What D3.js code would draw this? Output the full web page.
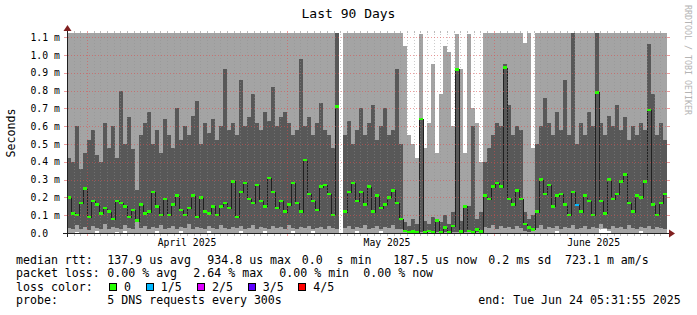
<!DOCTYPE html>
<html><head><meta charset="utf-8">
<script src="https://cdn.jsdelivr.net/npm/d3@7"></script>
<style>
html,body{margin:0;padding:0;background:#fff;}
svg{display:block;}
text{font-family:"DejaVu Sans Mono",monospace;white-space:pre;}
</style>
</head><body>
<svg id="c" width="697" height="315"></svg>
<script>
// ---- data (values in milliseconds) ----
const startDate = new Date(2025, 2, 29, 0, 0, 0);
const endDate   = new Date(2025, 5, 27, 0, 0, 0);
const yMax = 1.124;
const yTicks = [0, 0.1, 0.2, 0.3, 0.4, 0.5, 0.6, 0.7, 0.8, 0.9, 1.0, 1.1];
const lossColors = ["#26ff00", "#00b8ff", "#dd00ff", "#5e00ff", "#ff0000"];
const lossLabels = ["0", "1/5", "2/5", "3/5", "4/5"];

// lowest ping (bottom of light smoke)
const p1 = [
0.002,0.002,0.003,0.002,0.002,0.002,0.002,0.012,0.002,0.002,
0.002,0.002,0.003,0.002,0.010,0.002,0.002,0.002,0.002,0.002,
0.002,0.002,0.012,0.002,0.002,0.002,0.002,0.002,0.010,0.002,
0.002,0.002,0.002,0.002,0.002,0.012,0.002,0.002,0.002,0.002,
0.002,0.002,0.002,0.010,0.002,0.002,0.002,0.002,0.002,0.012,
0.002,0.002,0.002,0.002,0.002,0.002,0.010,0.002,0.002,0.002,
0.002,0.012,0.002,0.002,0.002,0.002,0.002,0.002,null,0.002,
0.002,0.002,0.010,0.002,0.002,0.002,0.002,0.002,0.012,0.002,
0.002,0.002,0.002,0.002,0.001,0.001,0.001,0.001,0.001,0.001,
0.001,0.001,0.001,0.001,0.001,0.001,0.001,0.001,0.001,0.001,
0.001,0.001,0.001,0.001,0.002,0.002,0.002,0.002,0.002,0.002,
0.002,0.002,0.002,0.002,0.002,0.002,0.002,0.002,0.002,0.002,
0.002,0.002,0.012,0.002,0.002,0.002,0.002,0.002,0.002,0.002,
0.002,0.002,0.002,0.020,0.025,0.010,0.002,0.002,0.002,0.002,
0.002,0.002,0.002,0.012,0.002,0.002,0.002,0.002,0.002,0.002];
// 2nd ping (bottom of dark smoke)
const p2 = [
0.030,0.020,0.045,0.025,0.035,0.015,0.040,0.030,0.020,0.050,
0.025,0.035,0.030,0.020,0.045,0.030,0.025,0.075,0.030,0.040,
0.020,0.035,0.030,0.045,0.025,0.030,0.040,0.020,0.035,0.030,
0.050,0.025,0.035,0.030,0.020,0.040,0.030,0.025,0.045,0.030,
0.020,0.035,0.030,0.040,0.025,0.030,0.045,0.020,0.035,0.030,
0.025,0.040,0.030,0.035,0.020,0.045,0.030,0.025,0.035,0.030,
0.040,0.020,0.030,0.035,0.025,0.040,0.030,0.020,null,0.030,
0.040,0.025,0.035,0.030,0.045,0.020,0.030,0.040,0.025,0.035,
0.030,0.045,0.025,0.020,0.005,0.004,0.006,0.004,0.005,0.004,
0.006,0.004,0.005,0.004,0.006,0.004,0.005,0.006,0.004,0.005,
0.006,0.004,0.005,0.004,0.035,0.030,0.045,0.025,0.040,0.030,
0.035,0.025,0.040,0.030,0.010,0.008,0.010,0.030,0.045,0.025,
0.035,0.030,0.040,0.020,0.035,0.030,0.045,0.025,0.030,0.040,
0.020,0.035,0.030,0.050,0.030,0.025,0.040,0.030,0.035,0.020,
0.045,0.030,0.025,0.035,0.030,0.040,0.020,0.035,0.030,0.025];
// median rtt
const med = [
0.20,0.11,0.10,0.17,0.25,0.09,0.18,0.16,0.11,0.14,
0.12,0.08,0.18,0.17,0.15,0.09,0.13,0.07,0.16,0.11,
0.12,0.23,0.15,0.10,0.19,0.10,0.16,0.21,0.13,0.10,
0.14,0.21,0.09,0.20,0.12,0.11,0.15,0.10,0.15,0.17,
0.14,0.29,0.09,0.23,0.28,0.19,0.17,0.27,0.18,0.15,
0.31,0.23,0.14,0.18,0.12,0.16,0.28,0.17,0.12,0.41,
0.22,0.18,0.13,0.26,0.27,0.22,0.10,0.71,null,0.12,
0.23,0.28,0.18,0.23,0.16,0.26,0.12,0.21,0.14,0.16,
0.20,0.24,0.17,0.08,0.010,0.006,0.008,0.005,0.64,0.006,
0.010,0.007,0.07,0.006,0.03,0.005,0.04,0.92,0.008,0.15,
0.010,0.006,0.020,0.008,0.21,0.19,0.26,0.28,0.26,0.93,
0.19,0.16,0.24,0.19,0.05,0.03,0.02,0.12,0.30,0.22,
0.27,0.15,0.21,0.22,0.16,0.10,0.23,0.157,0.12,0.21,
0.18,0.10,0.79,0.18,0.11,0.30,0.19,0.22,0.29,0.33,
0.17,0.12,0.21,0.20,0.29,0.69,0.16,0.10,0.17,0.22];
// 4th ping (top of dark smoke)
const p4 = [
0.42,0.40,0.60,0.36,0.45,0.52,0.58,0.44,0.40,0.62,
0.48,0.60,0.42,0.80,0.50,0.65,0.47,0.24,0.55,0.62,
0.68,0.50,0.58,0.45,0.64,0.55,0.48,0.70,0.52,0.60,
0.55,0.66,0.74,0.50,0.62,0.56,0.64,0.52,0.60,0.92,
0.58,0.62,0.55,0.86,0.60,0.65,0.78,0.62,0.58,0.68,
0.63,0.82,0.60,0.65,0.68,0.62,0.55,0.58,0.98,0.60,
0.65,0.55,0.62,0.73,0.58,0.55,0.48,2.00,null,0.55,
0.63,0.50,0.58,0.70,0.55,0.62,0.72,0.52,0.60,0.70,
0.55,0.58,0.92,0.50,0.06,0.04,0.08,0.05,0.64,0.07,
0.05,0.09,0.08,0.06,0.10,0.05,0.12,0.93,0.07,0.16,
0.15,0.60,0.08,0.12,0.40,0.48,0.55,0.62,0.60,0.95,
0.72,0.55,0.60,0.58,0.12,0.08,0.10,0.50,0.60,0.76,
0.62,0.55,0.68,0.58,0.86,0.55,1.20,0.50,0.62,0.55,
0.68,0.60,1.20,0.62,0.55,0.66,0.60,0.72,0.58,0.65,
0.52,0.60,0.55,0.62,0.58,1.06,0.78,0.55,0.62,0.52];
// highest ping (top of light smoke)
const p5 = [
2,2,2,2,2,2,2,2,2,2,
2,2,2,2,2,2,2,2,2,2,
2,2,2,2,2,2,2,2,2,2,
2,2,2,2,2,2,2,2,2,2,
2,2,2,2,2,2,2,2,2,2,
2,2,2,2,2,2,2,2,2,2,
2,2,2,2,2,2,2,2,null,2,
2,2,2,2,2,2,2,2,2,2,
2,2,2,2,1.05,0.55,0.50,0.42,1.12,0.48,
0.62,0.95,0.45,0.78,1.05,1.02,0.60,1.12,0.92,0.45,
1.12,0.70,0.62,0.40,2,2,2,2,2,2,
2,2,2,2,1.07,1.13,0.48,2,2,2,
2,2,2,2,2,2,2,2,2,2,
2,2,2,2,2,2,2,2,2,2,
2,2,2,2,2,2,2,2,2,2];
// lost packets out of 5
const loss = [
0,0,0,0,0,0,0,0,0,0, 0,0,0,0,0,0,0,0,0,0,
0,0,0,0,0,0,0,0,0,0, 0,0,0,0,0,0,0,0,0,0,
0,0,0,0,0,0,0,0,0,0, 0,0,0,0,0,0,0,0,0,0,
0,0,0,0,0,0,0,0,null,0, 0,0,0,0,0,0,0,0,0,0,
0,0,0,0,0,0,0,0,0,0, 0,0,0,0,0,0,0,0,0,0,
0,0,0,0,0,0,0,0,0,0, 0,0,0,0,0,0,0,0,0,0,
0,0,0,0,0,0,0,1,0,0, 0,0,0,0,0,0,0,0,0,0,
0,0,0,0,0,0,0,0,0,0];

const legendRtt  = ["median rtt:", "137.9 us avg", "934.8 us max", "0.0  s min", "187.5 us now", "0.2 ms sd", "723.1 m am/s"];
const legendLoss = ["packet loss:", "0.00 % avg", "2.64 % max", "0.00 % min", "0.00 % now"];
const probeText = ["probe:", "5 DNS requests every 300s", "end: Tue Jun 24 05:31:55 2025"];

// ---- drawing ----
const svg = d3.select("#c");
const X0 = 67, X1 = 667, Y0 = 233, Y1 = 33;
const x = d3.scaleTime().domain([startDate, endDate]).range([X0, X1]);
const y = d3.scaleLinear().domain([0, yMax]).range([Y0, Y1]);
const n = med.length;
const stepMs = (endDate - startDate) / n;
const colT = i => new Date(+startDate + i * stepMs);
const clip = v => Math.min(v, yMax);
const cols = d3.range(n).map(i => ({
  x0: x(colT(i)), x1: x(colT(i + 1)),
  p1: p1[i], p2: p2[i], med: med[i], p4: p4[i], p5: p5[i], loss: loss[i]
}));
const valid = cols.filter(d => d.med != null);

const g = svg.append("g").attr("shape-rendering", "crispEdges");
g.selectAll("rect.l").data(valid).join("rect").attr("class", "l")
  .attr("x", d => d.x0).attr("width", d => d.x1 - d.x0)
  .attr("y", d => y(clip(d.p5))).attr("height", d => y(clip(d.p1)) - y(clip(d.p5)))
  .attr("fill", "#a4a4a4");
g.selectAll("rect.d").data(valid).join("rect").attr("class", "d")
  .attr("x", d => d.x0).attr("width", d => d.x1 - d.x0)
  .attr("y", d => y(clip(d.p4))).attr("height", d => y(clip(d.p2)) - y(clip(d.p4)))
  .attr("fill", "#585858");

// median step line
const pts = [];
cols.forEach(d => { pts.push({ x: d.x0, v: d.med }); pts.push({ x: d.x1, v: d.med }); });
g.append("path")
  .attr("d", d3.line().defined(d => d.v != null).x(d => d.x).y(d => Math.round(y(clip(d.v))) + 0.5)(pts))
  .attr("fill", "none").attr("stroke", "#202020").attr("stroke-width", 1);
// loss-coloured median band
g.selectAll("rect.m").data(valid).join("rect").attr("class", "m")
  .attr("x", d => d.x0).attr("width", d => d.x1 - d.x0)
  .attr("y", d => y(clip(d.med)) - 1.25).attr("height", 2.5)
  .attr("fill", d => lossColors[d.loss]);

// grid
const grid = svg.append("g").attr("shape-rendering", "crispEdges");
const months = d3.timeMonth.range(startDate, endDate);
const monthSet = new Set(months.map(m => +m));
const days = d3.timeDay.range(startDate, endDate).filter(d => !monthSet.has(+d) && x(d) > X0);
const minorCol = "rgba(143,143,143,0.45)", majorCol = "rgba(222,79,79,0.55)";
const tickMinor = "rgba(143,143,143,0.6)";
days.forEach(d => {
  const xx = Math.round(x(d)) + 0.5;
  grid.append("line").attr("x1", xx).attr("x2", xx).attr("y1", Y1 + 1).attr("y2", Y0 - 1)
    .attr("stroke", minorCol).attr("stroke-dasharray", "1,2");
  grid.append("line").attr("x1", xx).attr("x2", xx).attr("y1", Y1 - 2).attr("y2", Y1).attr("stroke", tickMinor);
  grid.append("line").attr("x1", xx).attr("x2", xx).attr("y1", Y0).attr("y2", Y0 + 3).attr("stroke", tickMinor);
});
months.forEach(d => {
  const xx = Math.round(x(d)) + 0.5;
  grid.append("line").attr("x1", xx).attr("x2", xx).attr("y1", Y1 + 1).attr("y2", Y0 - 1)
    .attr("stroke", majorCol).attr("stroke-dasharray", "1,2");
  grid.append("line").attr("x1", xx).attr("x2", xx).attr("y1", Y1 - 2).attr("y2", Y1).attr("stroke", majorCol);
  grid.append("line").attr("x1", xx).attr("x2", xx).attr("y1", Y0).attr("y2", Y0 + 3).attr("stroke", majorCol);
});
yTicks.filter(v => v > 0).forEach(v => {
  const yy = Math.round(y(v)) + 0.5;
  grid.append("line").attr("x1", X0 + 1).attr("x2", X1).attr("y1", yy).attr("y2", yy)
    .attr("stroke", majorCol).attr("stroke-dasharray", "1,2");
  grid.append("line").attr("x1", X0 - 3).attr("x2", X0).attr("y1", yy).attr("y2", yy).attr("stroke", majorCol);
  grid.append("line").attr("x1", X1).attr("x2", X1 + 3).attr("y1", yy).attr("y2", yy).attr("stroke", majorCol);
});

// axes
const ax = svg.append("g").attr("shape-rendering", "crispEdges");
ax.append("line").attr("x1", X0 - 4).attr("x2", X1 + 4).attr("y1", Y0 + 0.5).attr("y2", Y0 + 0.5).attr("stroke", "#1f1f1f");
ax.append("line").attr("x1", X0 + 0.5).attr("x2", X0 + 0.5).attr("y1", Y0 + 4).attr("y2", Y1 - 4).attr("stroke", "#1f1f1f");
svg.append("path").attr("d", `M${X1 + 2},${Y0 - 3.5}L${X1 + 2},${Y0 + 4.5}L${X1 + 8},${Y0 + 0.5}Z`).attr("fill", "#801f1f");
svg.append("path").attr("d", `M${X0 - 3.5},${Y1 - 2}L${X0 + 4.5},${Y1 - 2}L${X0 + 0.5},${Y1 - 8}Z`).attr("fill", "#801f1f");

// labels
svg.append("text").attr("x", 348.5).attr("y", 18).attr("text-anchor", "middle")
  .attr("font-size", "13px").text("Last 90 Days");
svg.append("text").attr("transform", "translate(15,133) rotate(-90)").attr("text-anchor", "middle")
  .attr("font-size", "11.6px").text("Seconds");
svg.selectAll("text.yt").data(yTicks).join("text").attr("class", "yt")
  .attr("x", 30.5).attr("y", v => y(v) + 3.5).attr("font-size", "9.75px")
  .text(v => v === 0 ? "0.0" : v.toFixed(1) + " m");
svg.selectAll("text.xt").data(months).join("text").attr("class", "xt")
  .attr("x", d => x(d3.timeDay.offset(d, 15))).attr("y", 246).attr("text-anchor", "middle")
  .attr("font-size", "9.75px").text(d => d3.timeFormat("%B %Y")(d));
svg.append("text").attr("transform", "translate(685,5) rotate(90)")
  .attr("font-size", "8.3px").attr("fill", "#b4b4b4").text("RRDTOOL / TOBI OETIKER");

// legend
const lf = "11.6px";
const l1x = [16, 107.3, 207.3, 301.7, 393.3, 488.3, 565];
legendRtt.forEach((t, i) => svg.append("text").attr("x", l1x[i]).attr("y", 263.5).attr("font-size", lf).text(t));
const l2x = [16, 107.3, 193.3, 279.3, 363.3];
legendLoss.forEach((t, i) => svg.append("text").attr("x", l2x[i]).attr("y", 277).attr("font-size", lf).text(t));
svg.append("text").attr("x", 16).attr("y", 290.5).attr("font-size", lf).text("loss color:");
const sqx = [109, 145.7, 197, 247.7, 298.3];
lossLabels.forEach((t, i) => {
  svg.append("rect").attr("x", Math.round(sqx[i]) + 0.5).attr("y", 283.5).attr("width", 7).attr("height", 7)
    .attr("fill", lossColors[i]).attr("stroke", "#000").attr("shape-rendering", "crispEdges");
  svg.append("text").attr("x", sqx[i] + 15).attr("y", 290.5).attr("font-size", lf).text(t);
});
const l4x = [16, 107.3, 478.3];
probeText.forEach((t, i) => svg.append("text").attr("x", l4x[i]).attr("y", 304).attr("font-size", lf).text(t));
</script>
</body></html>
